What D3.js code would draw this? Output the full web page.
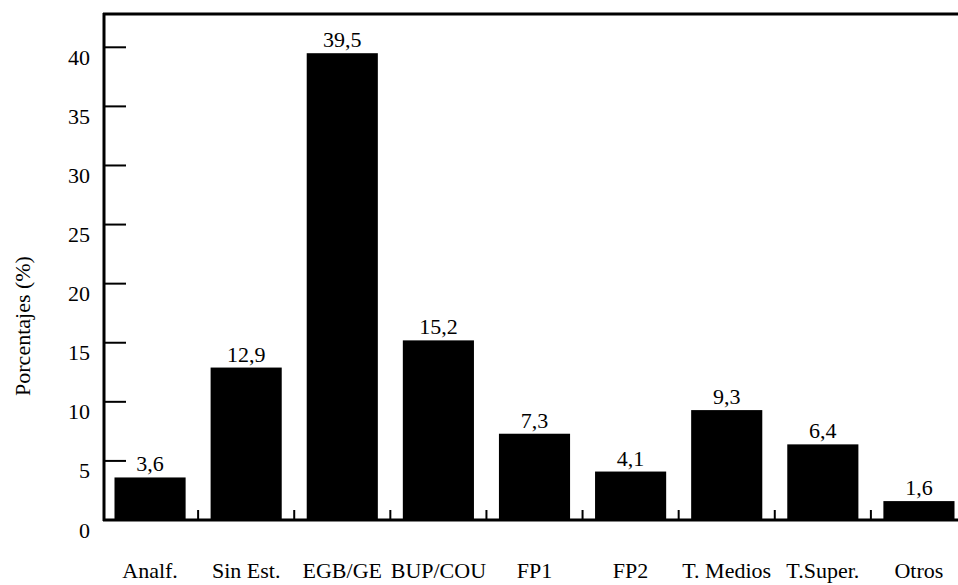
<!DOCTYPE html>
<html><head><meta charset="utf-8">
<script src="https://cdn.jsdelivr.net/npm/d3@7"></script>
<style>body{margin:0;background:#fff}svg{display:block}text{font-family:'Liberation Serif','Times New Roman',Times,serif;fill:#000}</style>
</head><body>
<svg id="c" width="958" height="585"></svg>
<script>
const categories = ["Analf.","Sin Est.","EGB/GE","BUP/COU","FP1","FP2","T. Medios","T.Super.","Otros"];
const values = [3.6,12.9,39.5,15.2,7.3,4.1,9.3,6.4,1.6];
const valueLabels = ["3,6","12,9","39,5","15,2","7,3","4,1","9,3","6,4","1,6"];
const yTicks = [0,5,10,15,20,25,30,35,40];
const yTitle = "Porcentajes (%)";

(function(){
const FONT = "Liberation Serif, Times New Roman, serif";
const FS = 22;
const svg = d3.select("#c");
const L = 104, R = 958, T = 14, B = 520;
const x = d3.scaleBand().domain(categories).range([102, 967]).paddingInner(0.26).paddingOuter(0.13);
const y = d3.scaleLinear().domain([0,40]).range([B, 47.3]);

svg.selectAll("rect.bar").data(values).join("rect")
  .attr("x",(d,i)=>x(categories[i])).attr("width",x.bandwidth())
  .attr("y",d=>y(d)).attr("height",d=>y(0)-y(d)).attr("fill","#000");

svg.selectAll("text.val").data(values).join("text")
  .attr("x",(d,i)=>x(categories[i])+x.bandwidth()/2).attr("y",d=>y(d)-6)
  .attr("text-anchor","middle").attr("font-family",FONT).attr("font-size",FS).text((d,i)=>valueLabels[i]);

svg.append("line").attr("x1",L).attr("x2",L).attr("y1",T-1).attr("y2",B+1).attr("stroke","#000").attr("stroke-width",3);
svg.append("line").attr("x1",L-1).attr("x2",R).attr("y1",T).attr("y2",T).attr("stroke","#000").attr("stroke-width",3);
svg.append("line").attr("x1",L-1).attr("x2",R).attr("y1",B).attr("y2",B).attr("stroke","#000").attr("stroke-width",3);

svg.selectAll("line.yt").data(yTicks.filter(t=>t>0)).join("line")
  .attr("x1",L).attr("x2",L+22).attr("y1",d=>y(d)).attr("y2",d=>y(d))
  .attr("stroke","#000").attr("stroke-width",2);
svg.selectAll("text.yl").data(yTicks).join("text")
  .attr("x",90).attr("y",d=>y(d)+17.5).attr("text-anchor","end").attr("font-family",FONT).attr("font-size",FS).text(d=>d);

const seps = categories.slice(0,-1).map((c,i)=>(x(c)+x.bandwidth()+x(categories[i+1]))/2);
svg.selectAll("line.xt").data(seps).join("line")
  .attr("x1",d=>d).attr("x2",d=>d).attr("y1",B).attr("y2",B-10)
  .attr("stroke","#000").attr("stroke-width",2);

svg.selectAll("text.xl").data(categories).join("text")
  .attr("x",d=>x(d)+x.bandwidth()/2).attr("y",578)
  .attr("text-anchor","middle").attr("font-family",FONT).attr("font-size",FS).text(d=>d);

svg.append("text").attr("transform","translate(30,326) rotate(-90)")
  .attr("text-anchor","middle").attr("font-family",FONT).attr("font-size",FS).text(yTitle);
})();
</script>
</body></html>
